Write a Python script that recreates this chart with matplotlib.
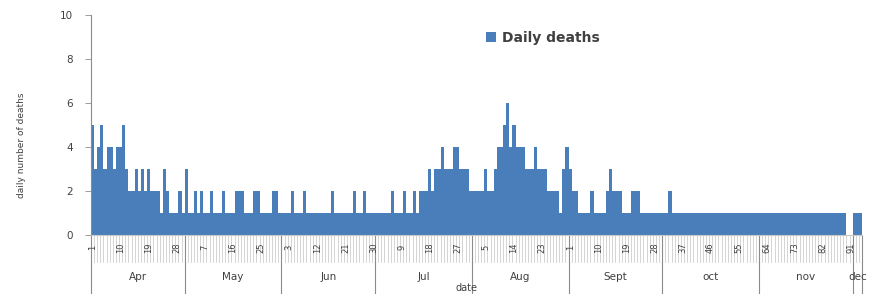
import numpy as np
import matplotlib
matplotlib.use("Agg")
import matplotlib.pyplot as plt
import matplotlib.transforms as mtransforms

# daily deaths, one list per month (Apr 1 ... Dec 3)
apr = [5, 3, 4, 5, 3, 4, 4, 3, 4, 4, 5, 3, 2, 2, 3, 2, 3, 2, 3, 2,
       2, 2, 1, 3, 2, 1, 1, 1, 2, 1]
may = [3, 1, 1, 2, 1, 2, 1, 1, 2, 1, 1, 1, 2, 1, 1, 1, 2, 2, 2, 1,
       1, 1, 2, 2, 1, 1, 1, 1, 2, 2, 1]
jun = [1, 1, 1, 2, 1, 1, 1, 2, 1, 1, 1, 1, 1, 1, 1, 1, 2, 1, 1, 1,
       1, 1, 1, 2, 1, 1, 2, 1, 1, 1]
jul = [1, 1, 1, 1, 1, 2, 1, 1, 1, 2, 1, 1, 2, 1, 2, 2, 2, 3, 2, 3,
       3, 4, 3, 3, 3, 4, 4, 3, 3, 3, 2]
aug = [2, 2, 2, 2, 3, 2, 2, 3, 4, 4, 5, 6, 4, 5, 4, 4, 4, 3, 3, 3,
       4, 3, 3, 3, 2, 2, 2, 2, 1, 3, 4]
sep = [3, 2, 2, 1, 1, 1, 1, 2, 1, 1, 1, 1, 2, 3, 2, 2, 2, 1, 1, 1,
       2, 2, 2, 1, 1, 1, 1, 1, 1, 1]
oct_ = [1, 1, 2, 1, 1, 1, 1, 1, 1, 1, 1, 1, 1, 1, 1, 1, 1, 1, 1, 1,
        1, 1, 1, 1, 1, 1, 1, 1, 1, 1, 1]
nov = [1, 1, 1, 1, 1, 1, 1, 1, 1, 1, 1, 1, 1, 1, 1, 1, 1, 1, 1, 1,
       1, 1, 1, 1, 1, 1, 1, 1, 0, 0]
dec = [1, 1, 1]

month_names = ["Apr", "May", "Jun", "Jul", "Aug", "Sept", "oct", "nov", "dec"]
month_data = [apr, may, jun, jul, aug, sep, oct_, nov, dec]

# labelled days (index from Apr 1) and their text
tick_idx = [0, 9, 18, 27, 36, 45, 54, 63, 72, 81, 90, 99, 108, 117, 126, 135,
            144, 153, 162, 171, 180, 189, 198, 207, 216, 225, 234, 243]
tick_txt = ["1", "10", "19", "28", "7", "16", "25", "3", "12", "21", "30",
            "9", "18", "27", "5", "14", "23", "1", "10", "19", "28",
            "37", "46", "55", "64", "73", "82", "91"]

deaths = np.concatenate(month_data)
n = len(deaths)
bar_color = "#4A7EBB"
grey = "#8c8c8c"
txt = "#404040"

fig = plt.figure(figsize=(8.72, 2.94), dpi=100)
ax = fig.add_axes([91 / 872, 59 / 294, 771 / 872, 220 / 294])

ax.bar(np.arange(n), deaths, width=1.0, align="edge", color=bar_color,
       linewidth=0, label="Daily deaths")
ax.set_xlim(0, n)
ax.set_ylim(0, 10)
ax.set_yticks(range(0, 11, 2))
ax.tick_params(axis="y", labelsize=7.5, colors=txt, length=4, width=0.6,
               color=grey, pad=9)
ax.set_xticks([])
for s in ["top", "right"]:
    ax.spines[s].set_visible(False)
ax.spines["left"].set_color(grey)
ax.spines["bottom"].set_color("#c8c8c8")
ax.spines["left"].set_bounds(0, 10)

trans = mtransforms.blended_transform_factory(ax.transData, ax.transAxes)

# left axis line runs down through the category area
ax.plot([0, 0], [0, -0.265], color=grey, lw=0.8, transform=trans, clip_on=False)

# category boundaries in the day row
for i in range(1, n + 1):
    ax.plot([i, i], [0, -0.122], color="#c4c4c4", lw=0.5, transform=trans,
            clip_on=False)

for i, t in zip(tick_idx, tick_txt):
    ax.text(i + 0.5, -0.058, t, rotation=90, ha="center", va="center",
            fontsize=6, color=txt, transform=trans, clip_on=False)

# month row
start = 0
for name, d in zip(month_names, month_data):
    end = start + len(d)
    ax.plot([end, end], [0, -0.265], color=grey, lw=0.8, transform=trans,
            clip_on=False)
    ax.text((start + end) / 2, -0.19, name, ha="center", va="center",
            fontsize=7.5, color=txt, transform=trans, clip_on=False)
    start = end

fig.text(466 / 872, 6 / 294, "date", ha="center", va="center", fontsize=7,
         color=txt)
fig.text(22 / 872, (294 - 145) / 294, "daily number of deaths", rotation=90,
         ha="center", va="center", fontsize=6.5, color=txt)

leg = ax.legend(loc="center", bbox_to_anchor=(543 / 872, (294 - 38) / 294),
                bbox_transform=fig.transFigure, frameon=False, fontsize=10,
                handlelength=0.7, handleheight=0.7, handletextpad=0.4)
for t in leg.get_texts():
    t.set_color(txt)
    t.set_fontweight("bold")

fig.savefig("out.png", dpi=100)
